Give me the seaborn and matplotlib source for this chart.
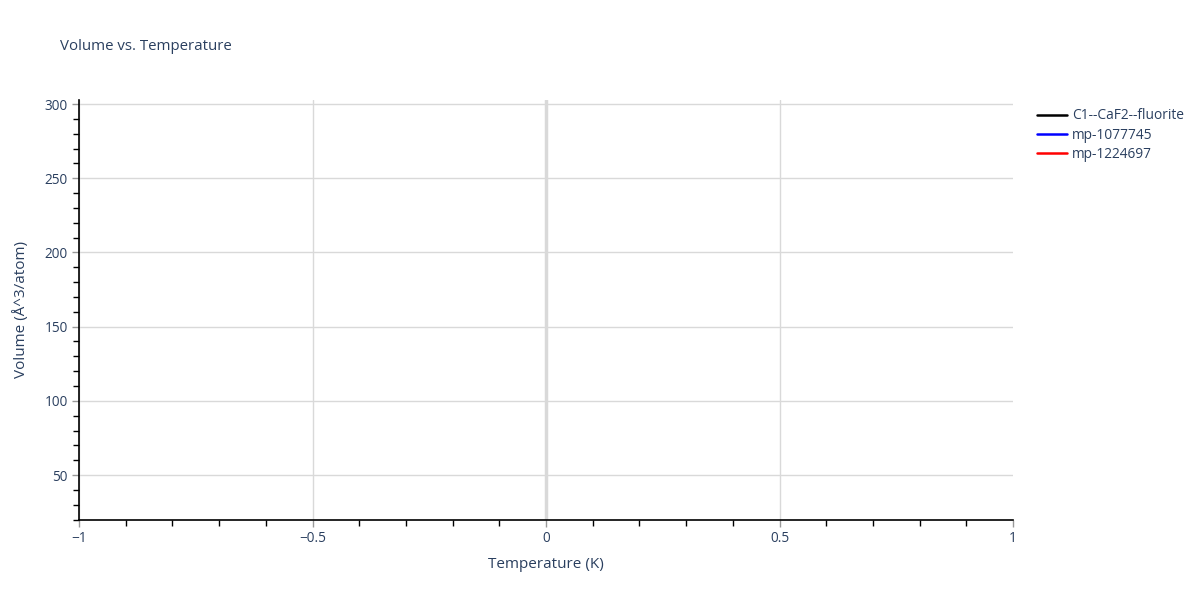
# Volume vs. Temperature, plotly-like look with seaborn/matplotlib
import numpy as np
import pandas as pd
import matplotlib
matplotlib.use("Agg")
import matplotlib.pyplot as plt
from matplotlib.ticker import MultipleLocator
import seaborn as sns

# data: every series has a single point at T = 0, so no line is visible
series_names = ["C1--CaF2--fluorite", "mp-1077745", "mp-1224697"]
series_colors = ["black", "blue", "red"]
temperatures = [[0.0], [0.0], [0.0]]
volumes = [[40.0], [40.0], [40.0]]

x_ticks = [-1, -0.5, 0, 0.5, 1]
x_tick_labels = ["\u22121", "\u22120.5", "0", "0.5", "1"]
y_ticks = [50, 100, 150, 200, 250, 300]

text_color = "#2a3f5f"
grid_color = "#d9d9d9"

sns.set_style("white")
plt.rcParams["font.family"] = ["Open Sans", "DejaVu Sans"]

fig = plt.figure(figsize=(12, 6), dpi=100)
ax = fig.add_axes([79 / 1200, 80 / 600, (1013 - 79) / 1200, 420 / 600])

for name, color, t, v in zip(series_names, series_colors, temperatures, volumes):
    df = pd.DataFrame({"Temperature": t, "Volume": v})
    sns.lineplot(data=df, x="Temperature", y="Volume", color=color,
                 label=name, linewidth=1.8, ax=ax)

ax.set_xlim(-1, 1)
ax.set_ylim(19.7, 302.7)

ax.set_xticks(x_ticks)
ax.set_xticklabels(x_tick_labels)
ax.set_yticks(y_ticks)
ax.xaxis.set_minor_locator(MultipleLocator(0.1))
ax.yaxis.set_minor_locator(MultipleLocator(10))

ax.grid(True, which="major", color=grid_color, linewidth=1)
ax.axvline(0, color=grid_color, linewidth=2.5, zorder=0.5)
ax.get_xgridlines()[-1].set_visible(False)

for side in ["top", "right"]:
    ax.spines[side].set_visible(False)
for side in ["left", "bottom"]:
    ax.spines[side].set_color("black")
    ax.spines[side].set_linewidth(1.2)

ax.tick_params(axis="both", which="major", direction="out", length=5,
               width=1, color="#999999", labelcolor=text_color, labelsize=9.8, pad=3)
ax.tick_params(axis="both", which="minor", direction="out", length=4,
               width=1, color="black")
ax.tick_params(axis="both", which="both", bottom=True, left=True)

ax.set_xlabel("Temperature (K)", color=text_color, fontsize=11, labelpad=8)
ax.set_ylabel("Volume (Å^3/atom)", color=text_color, fontsize=11, labelpad=11)

fig.text(60 / 1200, 1 - 46 / 600, "Volume vs. Temperature", color=text_color,
         fontsize=10.8, va="center", ha="left")

leg = ax.legend(loc="upper left", bbox_to_anchor=(1.02, 0.993), frameon=False,
                fontsize=9.9, handlelength=2.2, handletextpad=0.35,
                labelspacing=0.3, borderaxespad=0)
for txt in leg.get_texts():
    txt.set_color(text_color)

fig.savefig("out.png", dpi=100)
